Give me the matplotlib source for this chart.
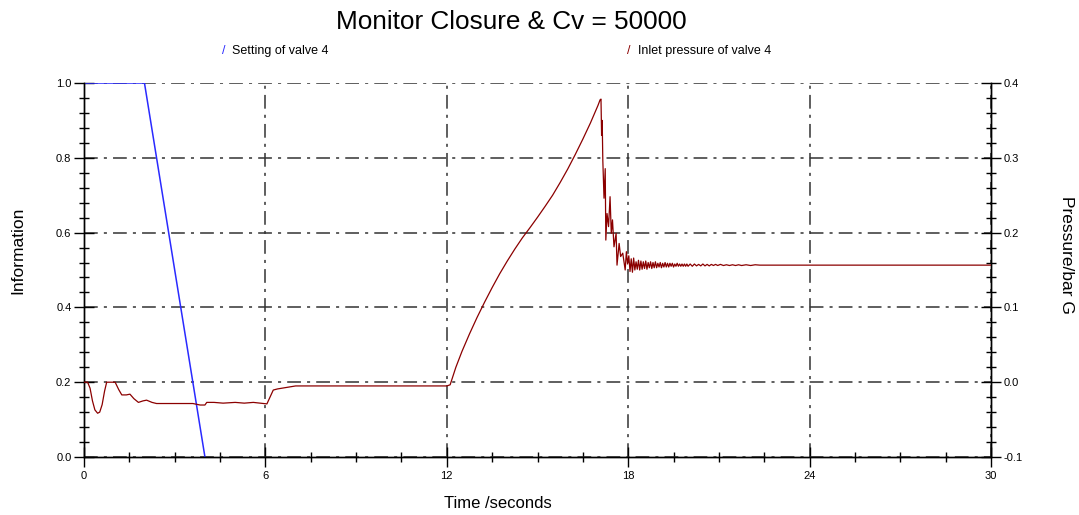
import matplotlib
matplotlib.use("Agg")
import matplotlib.pyplot as plt
from matplotlib.ticker import MultipleLocator, FormatStrFormatter

plt.rcParams['font.family'] = ['Liberation Sans', 'DejaVu Sans']

title = "Monitor Closure & Cv = 50000"
series_names = ["Setting of valve 4", "Inlet pressure of valve 4"]
x_label = "Time /seconds"
y_left_label = "Information"
y_right_label = "Pressure/bar G"

# Setting of valve 4 (left axis, information)
setting_t = [0.0, 2.0, 4.0]
setting_v = [1.0, 1.0, 0.0]

# Inlet pressure of valve 4 (right axis, bar G)
pressure_t = [
    0.0, 0.12, 0.2, 0.28, 0.36, 0.45, 0.52, 0.6, 0.68, 0.75, 1.03, 1.15, 1.25, 1.4, 1.52,
    1.65, 1.8, 1.95, 2.07, 2.25, 2.4, 3.0, 3.6, 3.84, 4.0, 4.06, 4.3, 4.6, 5.0,
    5.3, 5.6, 5.93, 6.05, 6.26, 6.4, 6.55, 6.7, 7.0, 12.0,
    12.11, 12.3, 12.5, 12.75, 13.0, 13.25, 13.5, 13.75, 14.0, 14.25, 14.5, 14.75,
    15.0, 15.25, 15.5, 15.75, 16.0, 16.25, 16.5, 16.75, 17.0, 17.07, 17.1,
    17.12, 17.14, 17.16, 17.2, 17.24, 17.26, 17.3, 17.35, 17.4, 17.44, 17.48,
    17.53, 17.6, 17.63, 17.7, 17.75, 17.82,
    17.90, 17.94, 17.98, 18.02, 18.06, 18.10, 18.14, 18.18, 18.22, 18.26, 18.30,
    18.34, 18.38, 18.42, 18.46, 18.50, 18.54, 18.58, 18.62, 18.66, 18.70, 18.74,
    18.78, 18.82, 18.86, 18.90, 18.94, 18.98, 19.02, 19.06, 19.10, 19.14, 19.18,
    19.22, 19.26, 19.30, 19.34, 19.38, 19.42, 19.46, 19.50, 19.54, 19.58, 19.62,
    19.66, 19.70, 19.74, 19.78, 19.82, 19.86, 19.90, 19.94, 19.98, 20.05, 20.12,
    20.19, 20.26, 20.33, 20.40, 20.47, 20.54, 20.61, 20.68, 20.75, 20.82, 20.89,
    20.96, 21.05, 21.15, 21.25, 21.35, 21.45, 21.55, 21.65, 21.75, 21.9, 22.05,
    22.2, 22.35, 30.0]
pressure_p = [
    0.0, 0.0, -0.008, -0.025, -0.037, -0.0415, -0.04, -0.03, -0.012, 0.0, 0.0, -0.01,
    -0.017, -0.017, -0.016, -0.022, -0.027, -0.025, -0.024, -0.027, -0.0285, -0.0285,
    -0.0285, -0.0305, -0.0305, -0.027, -0.027, -0.028, -0.027, -0.028, -0.027,
    -0.0285, -0.029, -0.0105, -0.009, -0.008, -0.007, -0.005, -0.005,
    -0.0035, 0.020, 0.041, 0.0645, 0.0865, 0.107, 0.1265, 0.145, 0.162, 0.178, 0.193,
    0.2065, 0.2205, 0.235, 0.250, 0.267, 0.285, 0.3045, 0.325, 0.3465, 0.370, 0.3775,
    0.3785,
    0.33, 0.35, 0.297, 0.246, 0.2855, 0.19, 0.2255, 0.208, 0.248, 0.199, 0.217,
    0.181, 0.199, 0.1565, 0.1855, 0.168, 0.1725,
    0.150, 0.1745, 0.158, 0.169, 0.148, 0.165, 0.147, 0.166, 0.150, 0.161, 0.151,
    0.163, 0.150, 0.162, 0.151, 0.161, 0.152, 0.162, 0.151, 0.160, 0.153, 0.161,
    0.152, 0.160, 0.153, 0.161, 0.153, 0.159, 0.154, 0.160, 0.153, 0.159, 0.154,
    0.160, 0.154, 0.159, 0.154, 0.159, 0.155, 0.159, 0.154, 0.158, 0.155, 0.159,
    0.155, 0.158, 0.155, 0.158, 0.155, 0.158, 0.155, 0.158, 0.155, 0.158, 0.155,
    0.158, 0.1555, 0.1575, 0.1555, 0.158, 0.1555, 0.1575, 0.1555, 0.1575, 0.156, 0.1575,
    0.156, 0.1575, 0.156, 0.157, 0.156, 0.157, 0.156, 0.157, 0.156, 0.157, 0.156,
    0.157, 0.1565, 0.1565]

blue = "#2a2aff"
red = "#8b0000"
gridc = "#333333"

fig = plt.figure(figsize=(10.79, 5.15), dpi=100)
ax = fig.add_axes([84/1079, 1-457/515, (991-84)/1079, (457-83)/515])
ax2 = ax.twinx()

ax.plot(setting_t, setting_v, color=blue, lw=1.1, zorder=3)
ax2.plot(pressure_t, pressure_p, color=red, lw=0.9, zorder=3)

ax.set_xlim(0, 30)
ax.set_ylim(0, 1.0)
ax2.set_ylim(-0.1, 0.4)

for a in (ax, ax2):
    a.spines['top'].set_visible(False)
    for s in a.spines.values():
        s.set_linewidth(1.0)
        s.set_color('black')

ax.xaxis.set_major_locator(MultipleLocator(6))
ax.xaxis.set_minor_locator(MultipleLocator(1.5))
ax.yaxis.set_major_locator(MultipleLocator(0.2))
ax.yaxis.set_minor_locator(MultipleLocator(0.04))
ax.yaxis.set_major_formatter(FormatStrFormatter('%.1f'))
ax2.yaxis.set_major_locator(MultipleLocator(0.1))
ax2.yaxis.set_minor_locator(MultipleLocator(0.02))
ax2.yaxis.set_major_formatter(FormatStrFormatter('%.1f'))

ax.tick_params(axis='x', which='major', direction='inout', length=14, width=1, labelsize=8, pad=3)
ax.tick_params(axis='x', which='minor', direction='inout', length=7, width=1)
ax.tick_params(axis='y', which='major', direction='inout', length=14, width=1, labelsize=8, pad=2)
ax.tick_params(axis='y', which='minor', direction='inout', length=7, width=1)
ax2.tick_params(axis='y', which='major', direction='inout', length=14, width=1, labelsize=8, pad=2)
ax2.tick_params(axis='y', which='minor', direction='inout', length=7, width=1)

ax.grid(True, which='major', color=gridc, lw=1.1, linestyle=(0, (9, 4, 2, 4)), zorder=1)
ax.set_axisbelow(True)

fig.text(511/1079, 1-22/515, title, ha='center', va='center', fontsize=18.8)
fig.text(498/1079, 1-504/515, x_label, ha='center', va='center', fontsize=12)
fig.text(18/1079, 1-250/515, y_left_label, ha='center', va='center', rotation=90, fontsize=12.5)
fig.text(1066/1079, 1-255/515, y_right_label, ha='center', va='center', rotation=270, fontsize=12.5)

fig.text(224/1079, 1-51/515, "/", color=blue, ha='center', va='center', fontsize=9)
fig.text(232/1079, 1-51/515, series_names[0], ha='left', va='center', fontsize=9)
fig.text(629/1079, 1-51/515, "/", color=red, ha='center', va='center', fontsize=9)
fig.text(638/1079, 1-51/515, series_names[1], ha='left', va='center', fontsize=9)

fig.savefig("out.png", dpi=100)
